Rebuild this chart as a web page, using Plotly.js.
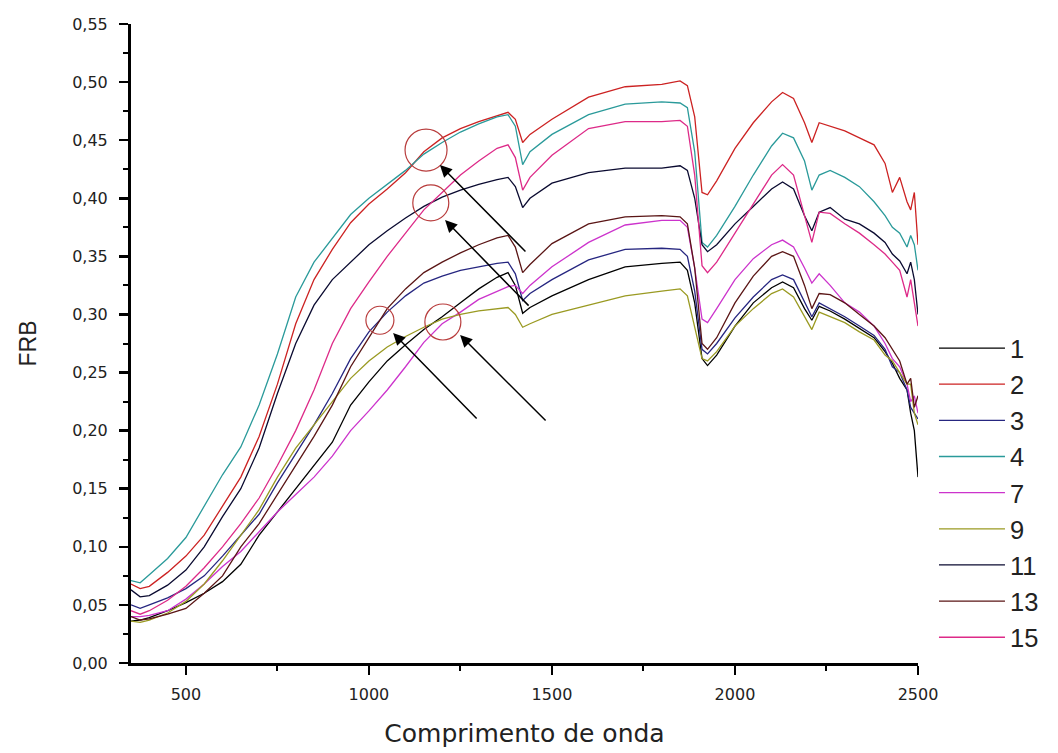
<!DOCTYPE html>
<html><head><meta charset="utf-8">
<script src="https://cdn.plot.ly/plotly-3.0.1.min.js"></script>
<style>html,body{margin:0;padding:0;background:#fff}</style>
</head><body><div id="chart" style="width:1058px;height:753px"></div>
<script>
const wavelength = [350,375,400,450,500,550,600,650,700,750,
800,850,900,950,1000,1050,1100,1150,1200,1250,
1300,1350,1380,1400,1420,1440,1500,1600,1700,1800,
1850,1870,1890,1910,1925,1950,2000,2050,2100,2130,
2160,2190,2210,2230,2260,2300,2340,2380,2410,2430,
2450,2470,2480,2490,2500];

const s1 = [0.036,0.037,0.039,0.045,0.052,0.060,0.070,0.085,0.110,0.130,
0.150,0.170,0.190,0.222,0.242,0.260,0.274,0.287,0.298,0.310,
0.322,0.332,0.336,0.325,0.301,0.306,0.316,0.330,0.341,0.344,
0.345,0.338,0.310,0.262,0.256,0.265,0.290,0.310,0.323,0.328,
0.323,0.305,0.295,0.307,0.303,0.296,0.288,0.280,0.268,0.258,
0.245,0.235,0.215,0.200,0.160];
const s2 = [0.068,0.064,0.066,0.078,0.092,0.110,0.135,0.160,0.195,0.240,
0.292,0.330,0.356,0.379,0.395,0.408,0.422,0.440,0.452,0.460,
0.466,0.471,0.474,0.468,0.448,0.455,0.468,0.487,0.496,0.498,
0.501,0.497,0.470,0.405,0.403,0.415,0.443,0.465,0.483,0.491,
0.486,0.465,0.448,0.465,0.462,0.458,0.452,0.446,0.430,0.405,
0.418,0.397,0.390,0.405,0.360];
const s3 = [0.050,0.047,0.050,0.056,0.064,0.075,0.092,0.110,0.128,0.155,
0.180,0.205,0.232,0.262,0.285,0.302,0.316,0.327,0.333,0.338,
0.341,0.344,0.345,0.335,0.312,0.318,0.330,0.347,0.356,0.357,
0.356,0.350,0.320,0.270,0.266,0.275,0.297,0.315,0.330,0.334,
0.330,0.310,0.298,0.310,0.305,0.298,0.290,0.282,0.270,0.255,
0.250,0.235,0.220,0.215,0.210];
const s4 = [0.071,0.069,0.076,0.090,0.108,0.135,0.162,0.186,0.222,0.266,
0.315,0.345,0.365,0.386,0.400,0.412,0.424,0.438,0.448,0.457,
0.464,0.470,0.472,0.462,0.429,0.440,0.455,0.472,0.481,0.483,
0.482,0.478,0.440,0.362,0.358,0.368,0.393,0.420,0.445,0.456,
0.452,0.432,0.407,0.420,0.424,0.418,0.410,0.397,0.385,0.375,
0.370,0.358,0.368,0.360,0.338];
const s7 = [0.040,0.040,0.041,0.045,0.055,0.068,0.083,0.096,0.113,0.130,
0.145,0.160,0.178,0.200,0.217,0.235,0.255,0.276,0.292,0.302,
0.313,0.320,0.324,0.325,0.318,0.325,0.341,0.362,0.377,0.381,
0.381,0.375,0.340,0.296,0.293,0.305,0.330,0.348,0.360,0.364,
0.358,0.340,0.327,0.335,0.325,0.310,0.302,0.290,0.275,0.262,
0.255,0.240,0.225,0.230,0.215];
const s9 = [0.036,0.035,0.037,0.043,0.053,0.068,0.088,0.110,0.132,0.160,
0.185,0.205,0.225,0.245,0.260,0.272,0.281,0.289,0.296,0.300,
0.303,0.305,0.306,0.300,0.289,0.292,0.300,0.308,0.316,0.320,
0.322,0.316,0.290,0.262,0.260,0.268,0.290,0.305,0.318,0.322,
0.315,0.298,0.287,0.302,0.298,0.293,0.285,0.278,0.265,0.260,
0.250,0.240,0.240,0.215,0.205];
const s11 = [0.063,0.057,0.058,0.067,0.080,0.100,0.126,0.150,0.185,0.232,
0.275,0.308,0.330,0.345,0.360,0.372,0.383,0.393,0.401,0.407,
0.412,0.416,0.418,0.410,0.392,0.400,0.413,0.422,0.426,0.426,
0.428,0.424,0.400,0.360,0.354,0.360,0.378,0.393,0.408,0.414,
0.408,0.385,0.372,0.388,0.392,0.382,0.378,0.370,0.362,0.352,
0.346,0.335,0.345,0.330,0.300];
const s13 = [0.040,0.037,0.038,0.042,0.047,0.060,0.075,0.100,0.120,0.145,
0.170,0.195,0.222,0.255,0.280,0.305,0.322,0.336,0.345,0.353,
0.360,0.366,0.368,0.358,0.336,0.343,0.361,0.378,0.384,0.385,
0.384,0.378,0.340,0.275,0.270,0.280,0.310,0.333,0.350,0.354,
0.350,0.325,0.305,0.318,0.317,0.310,0.300,0.290,0.280,0.270,
0.260,0.240,0.245,0.220,0.230];
const s15 = [0.045,0.042,0.045,0.054,0.066,0.082,0.100,0.120,0.142,0.170,
0.200,0.235,0.275,0.305,0.328,0.350,0.370,0.390,0.405,0.420,
0.432,0.443,0.446,0.435,0.407,0.418,0.437,0.460,0.466,0.466,
0.467,0.462,0.420,0.342,0.336,0.345,0.370,0.395,0.420,0.429,
0.420,0.385,0.362,0.388,0.387,0.378,0.370,0.360,0.352,0.345,
0.338,0.315,0.330,0.310,0.290];

const seriesNames = ['1','2','3','4','7','9','11','13','15'];
const seriesValues = [s1,s2,s3,s4,s7,s9,s11,s13,s15];
const seriesColors = ['#000000','#cc2222','#262680','#2a9a9a','#cc33cc','#9a9a22','#0a0a30','#5a1515','#dd2a88'];

// highlighted crossings (circles) and arrows, in data units
const circleX = [1156,1169,1030,1202];
const circleY = [0.4415,0.396,0.295,0.2935];
const circleR = [21,18,14,18];
const arrowX = [1194,1208,1066,1249];
const arrowY = [0.4286,0.3812,0.2840,0.2823];
const arrowDX = [87,85,85,87];
const arrowDY = [88,87,87,87];

const yTicks = [0,0.05,0.10,0.15,0.20,0.25,0.30,0.35,0.40,0.45,0.50,0.55];
const xTicks = [500,1000,1500,2000,2500];

const traces = seriesNames.map((n,i)=>({
  x: wavelength, y: seriesValues[i], name: n, type:'scatter', mode:'lines',
  line:{color: seriesColors[i], width:1.3}
}));

const shapes = circleX.map((cx,i)=>({
  type:'circle', xref:'x', yref:'y', xsizemode:'pixel', ysizemode:'pixel',
  xanchor: cx, yanchor: circleY[i],
  x0:-circleR[i], x1:circleR[i], y0:-circleR[i], y1:circleR[i],
  line:{color:'#b83c3c', width:1.2}
}));

const annotations = arrowX.map((ax,i)=>({
  x: ax, y: arrowY[i], xref:'x', yref:'y', ax: arrowDX[i], ay: arrowDY[i],
  text:'', showarrow:true, arrowhead:2, arrowsize:1.6, arrowwidth:1.5, arrowcolor:'#000'
}));

const tickFont = {family:'DejaVu Sans, Arial, sans-serif', size:16, color:'#222'};

const layout = {
  width:1058, height:753,
  margin:{l:131, r:140, t:24, b:90},
  paper_bgcolor:'#fff', plot_bgcolor:'#fff',
  separators: ',.',
  showlegend:true,
  legend:{x:1.0203, xanchor:'left', y:0.529, yanchor:'top',
    font:{family:'Liberation Sans, Arial, sans-serif', size:25.5, color:'#222'},
    itemwidth:66, bgcolor:'rgba(0,0,0,0)', tracegroupgap:0},
  xaxis:{range:[350,2500], tickvals:xTicks, tickformat:'d', showgrid:false, zeroline:false,
    showline:true, linecolor:'#000', linewidth:3, ticks:'outside', ticklen:9, tickwidth:2.5, tickcolor:'#000',
    minor:{dtick:250, tick0:250, ticks:'outside', ticklen:5, tickwidth:2, tickcolor:'#000'},
    tickfont:tickFont, ticklabelstandoff:6,
    title:{text:'Comprimento de onda', font:{family:'DejaVu Sans, Arial, sans-serif', size:25, color:'#222'}, standoff:22}},
  yaxis:{range:[0,0.55], tickvals:yTicks, tickformat:'.2f', showgrid:false, zeroline:false,
    showline:true, linecolor:'#000', linewidth:3, ticks:'outside', ticklen:9, tickwidth:2.5, tickcolor:'#000',
    minor:{dtick:0.025, tick0:0, ticks:'outside', ticklen:5, tickwidth:2, tickcolor:'#000'},
    tickfont:tickFont, ticklabelstandoff:8,
    title:{text:'FRB', font:{family:'Liberation Sans, Arial, sans-serif', size:23, color:'#222'}, standoff:30}},
  shapes: shapes,
  annotations: annotations
};

Plotly.newPlot('chart', traces, layout, {displayModeBar:false, staticPlot:true});
</script>
</body></html>
